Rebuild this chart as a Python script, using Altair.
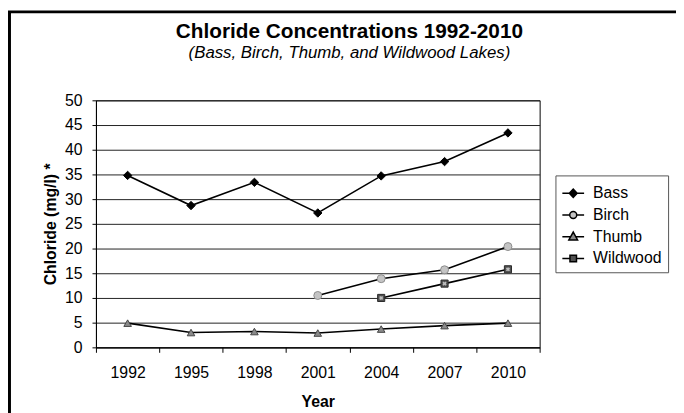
import altair as alt
import pandas as pd

years = ["1992", "1995", "1998", "2001", "2004", "2007", "2010"]
lakes = ["Bass", "Birch", "Thumb", "Wildwood"]
bass = [34.8, 28.7, 33.4, 27.2, 34.7, 37.6, 43.4]
birch = [None, None, None, 10.5, 13.9, 15.7, 20.4]
thumb = [4.9, 3.0, 3.2, 2.9, 3.7, 4.4, 4.9]
wildwood = [None, None, None, None, 10.0, 12.9, 15.8]

marker_fill = ["#000000", "#c4c4c4", "#8a8a8a", "#505050"]
marker_stroke = ["#000000", "#8c8c8c", "#444444", "#2a2a2a"]
marker_shape = ["diamond", "circle", "triangle-up", "square"]
marker_size = [72, 52, 70, 45]
legend_paths = [
    "M-1,0H-0.36M0.36,0H1M-0.36,0L0,-0.38L0.36,0L0,0.38Z",
    "M-1,0H-0.32M0.32,0H1M-0.32,0A0.32,0.32,0,1,0,0.32,0A0.32,0.32,0,1,0,-0.32,0Z",
    "M-1,0H-0.24M0.24,0H1M-0.4,0.3L0,-0.42L0.4,0.3Z",
    "M-1,0H-0.3M0.3,0H1M-0.3,-0.3H0.3V0.3H-0.3Z",
]

rows = []
for name, vals in zip(lakes, [bass, birch, thumb, wildwood]):
    for yr, v in zip(years, vals):
        if v is not None:
            rows.append({"Year": yr, "Lake": name, "Value": v})
df = pd.DataFrame(rows)

FONT = "Liberation Sans"

x_enc = alt.X(
    "Year:N",
    sort=years,
    bandPosition=0.5,
    scale=alt.Scale(type="band", paddingInner=0, paddingOuter=0),
    axis=alt.Axis(
        title="Year", labelAngle=0, tickBand="extent", grid=False,
        tickSize=5, labelPadding=13, titlePadding=13,
    ),
)
y_enc = alt.Y(
    "Value:Q",
    scale=alt.Scale(domain=[0, 50], nice=False),
    axis=alt.Axis(
        title="Chloride (mg/l) *", values=list(range(0, 51, 5)), grid=True,
        tickSize=4, labelPadding=10, titlePadding=6,
    ),
)

base = alt.Chart(df)

lines = base.mark_line(color="black", strokeWidth=1.6).encode(
    x=x_enc, y=y_enc, detail="Lake:N"
)

points = base.mark_point(filled=True, opacity=1, strokeWidth=1).encode(
    x=x_enc,
    y=y_enc,
    shape=alt.Shape("Lake:N", scale=alt.Scale(domain=lakes, range=marker_shape), legend=None),
    fill=alt.Fill("Lake:N", scale=alt.Scale(domain=lakes, range=marker_fill), legend=None),
    stroke=alt.Stroke("Lake:N", scale=alt.Scale(domain=lakes, range=marker_stroke), legend=None),
    size=alt.Size("Lake:N", scale=alt.Scale(domain=lakes, range=marker_size), legend=None),
)

crosses = base.transform_filter(alt.datum.Lake == "Wildwood").mark_point(
    shape="cross", angle=45, size=18, filled=True, color="#bdbdbd", opacity=1
).encode(x=x_enc, y=y_enc)

legend_layer = base.mark_point(filled=True, opacity=0, size=484, strokeWidth=1.5).encode(
    x=x_enc,
    y=y_enc,
    shape=alt.Shape(
        "Lake:N",
        scale=alt.Scale(domain=lakes, range=legend_paths),
        legend=alt.Legend(
            title=None, orient="none", legendX=465, legendY=76,
            labelFont=FONT, labelFontSize=16, labelColor="black", labelOffset=8,
            symbolSize=484, symbolOpacity=1, symbolStrokeWidth=1.5,
            strokeColor="#555555", padding=6, rowPadding=2,
        ),
    ),
    fill=alt.Fill("Lake:N", scale=alt.Scale(domain=lakes, range=marker_fill)),
    stroke=alt.Stroke("Lake:N", scale=alt.Scale(domain=lakes, range=["black"] * 4)),
)

frame = alt.Chart(pd.DataFrame({"k": [0]})).mark_rect(
    fill="transparent", stroke="black", strokeWidth=3
).encode(
    x=alt.value(-87.5), x2=alt.value(700), y=alt.value(-89.5), y2=alt.value(450)
)

chart = alt.layer(lines, points, crosses, legend_layer, frame).resolve_scale(
    shape="independent", fill="independent", stroke="independent"
).properties(
    width=449,
    height=250,
    autosize=alt.AutoSizeParams(type="none"),
    padding={"left": 89, "top": 91, "right": 138, "bottom": 64},
    title=alt.TitleParams(
        text="Chloride Concentrations 1992-2010",
        subtitle="(Bass, Birch, Thumb, and Wildwood Lakes)",
        font=FONT, fontSize=21, fontWeight="bold", color="black",
        subtitleFont=FONT, subtitleFontSize=17, subtitleFontStyle="italic",
        subtitleColor="black", subtitlePadding=3,
        anchor="middle", frame="group", dx=32, offset=-51,
    ),
).configure_view(
    stroke="black", strokeWidth=1
).configure_axis(
    labelFont=FONT, labelFontSize=16, labelColor="black",
    titleFont=FONT, titleFontSize=16, titleFontWeight="bold", titleColor="black",
    domainColor="black", tickColor="black", gridColor="#222222",
    domainWidth=1, tickWidth=1, gridWidth=1,
)

chart.save("out.html", embed_options={"renderer": "svg", "actions": False})
